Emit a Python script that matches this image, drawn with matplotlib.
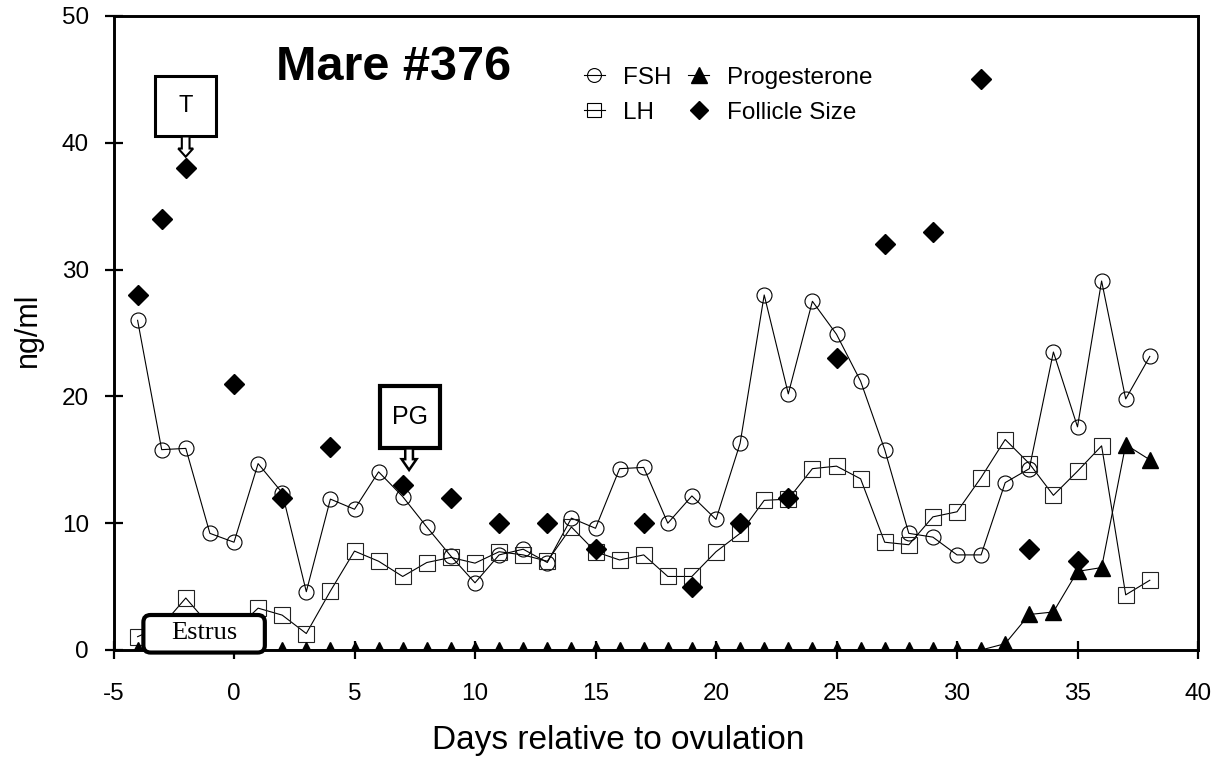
import matplotlib
matplotlib.use("Agg")
import matplotlib.pyplot as plt
from matplotlib.patches import Rectangle, FancyArrow, FancyBboxPatch
from matplotlib.lines import Line2D

plt.rcParams['font.family'] = ['Liberation Sans', 'DejaVu Sans']
plt.rcParams['axes.unicode_minus'] = False

# days relative to ovulation
days = list(range(-4, 39))

fsh = [26.0, 15.8, 15.9, 9.2, 8.5, 14.7, 12.4, 4.6, 11.9, 11.1, 14.05, 12.1, 9.7,
       7.4, 5.3, 7.5, 7.95, 6.9, 10.4, 9.6, 14.3, 14.4, 10.0, 12.15, 10.3, 16.3,
       28.0, 20.2, 27.5, 24.9, 21.2, 15.8, 9.2, 8.9, 7.5, 7.5, 13.2, 14.3, 23.5,
       17.6, 29.1, 19.8, 23.15]

lh = [1.05, 1.9, 4.1, 1.9, 1.5, 3.3, 2.75, 1.3, 4.65, 7.8, 7.0, 5.8, 6.9,
      7.3, 6.85, 7.75, 7.5, 7.0, 9.7, 7.75, 7.1, 7.5, 5.8, 5.8, 7.75, 9.2,
      11.8, 11.9, 14.3, 14.5, 13.5, 8.5, 8.3, 10.5, 10.9, 13.6, 16.6, 14.7, 12.2,
      14.1, 16.1, 4.35, 5.5]

prog = [0.0] * 36 + [0.5, 2.8, 3.0, 6.2, 6.5, 16.2, 15.0]

foll_days = [-4, -3, -2, 0, 2, 4, 7, 9, 11, 13, 15, 17, 19, 21, 23, 25, 27, 29, 31, 33, 35]
foll_size = [28, 34, 38, 21, 12, 16, 13, 12, 10, 10, 8, 10, 5, 10, 12, 23, 32, 33, 45, 8, 7]

x_ticks = [-5, 0, 5, 10, 15, 20, 25, 30, 35, 40]
y_ticks = [0, 10, 20, 30, 40, 50]

# annotation boxes (data units)
t_box = (-3.27, 40.5, 2.53, 4.8)     # x, y, w, h
t_tip = 38.9
pg_box = (6.05, 15.9, 2.49, 4.9)
pg_tip = 14.2
estrus_box = (-3.76, -0.2, 5.04, 2.96)

fig = plt.figure(figsize=(12.23, 7.63), dpi=100)
ax = fig.add_axes([113.5 / 1223, 1 - 650 / 763, (1198 - 113.5) / 1223, (650 - 16) / 763])

lw = 0.8
ax.plot(days, fsh, color='black', lw=lw, marker='o', ms=10.8, mfc='none', mec='black',
        mew=0.8, zorder=3)
ax.plot(days, lh, color='black', lw=lw, marker='s', ms=11.5, mfc='none', mec='#222222',
        mew=0.8, zorder=3)
ax.plot(foll_days, foll_size, ls='none', marker='D', ms=9.8, mfc='black', mec='black',
        zorder=4)
ax.plot(days, prog, color='black', lw=lw, marker='^', ms=12, mfc='black', mec='black',
        zorder=4)

ax.set_xlim(-5, 40)
ax.set_ylim(0, 50)
ax.set_xticks(x_ticks)
ax.set_yticks(y_ticks)
ax.tick_params(direction='inout', length=13.5, width=1.6, labelsize=17.5, color='black')
ax.tick_params(axis='x', pad=17)
ax.tick_params(axis='y', pad=11)
for s in ax.spines.values():
    s.set_linewidth(2.1)

ax.set_xlabel('Days relative to ovulation', fontsize=24, va='center')
ax.xaxis.set_label_coords(0.465, -0.142)
ax.set_ylabel('ng/ml', fontsize=22, va='center')
ax.yaxis.set_label_coords(-0.079, 0.505)

ax.text(0.258, 0.899, 'Mare #376', transform=ax.transAxes, fontsize=35,
        fontweight='bold', ha='center', va='baseline')

# legend
handles = [
    Line2D([], [], color='black', lw=lw, marker='o', ms=10, mfc='none', mec='black', mew=0.8),
    Line2D([], [], color='black', lw=lw, marker='s', ms=10, mfc='none', mec='black', mew=0.8),
    Line2D([], [], color='black', lw=lw, marker='^', ms=11, mfc='black', mec='black'),
    Line2D([], [], ls='none', marker='D', ms=9, mfc='black', mec='black'),
]
labels = ['FSH', 'LH', 'Progesterone', 'Follicle Size']
ax.legend(handles, labels, ncol=2, loc='center', bbox_to_anchor=(0.567, 0.875),
          frameon=False, fontsize=17.5, handlelength=0.85, handletextpad=0.75,
          columnspacing=0.7, labelspacing=0.55, borderpad=0)

# T callout
x0, y0, w, h = t_box
ax.add_patch(Rectangle((x0, y0), w, h, fc='white', ec='black', lw=2.2, zorder=6))
ax.text(x0 + w / 2, y0 + h / 2, 'T', ha='center', va='center', fontsize=17, zorder=7)
ax.add_patch(FancyArrow(x0 + w / 2, y0, 0, t_tip - y0, width=0.32, head_width=0.62,
                        head_length=0.65, length_includes_head=True, fc='white',
                        ec='black', lw=1.5, zorder=6))

# PG callout
x0, y0, w, h = pg_box
ax.add_patch(Rectangle((x0, y0), w, h, fc='white', ec='black', lw=3, zorder=6))
ax.text(x0 + w / 2, y0 + h / 2, 'PG', ha='center', va='center', fontsize=18, zorder=7)
ax.add_patch(FancyArrow(x0 + w / 2 - 0.03, y0, 0, pg_tip - y0, width=0.32, head_width=0.62,
                        head_length=0.85, length_includes_head=True, fc='white',
                        ec='black', lw=1.8, zorder=6))

# Estrus box
x0, y0, w, h = estrus_box
ax.add_patch(FancyBboxPatch((x0, y0), w, h, boxstyle='round,pad=0,rounding_size=0.3',
                            mutation_aspect=1.9, fc='white', ec='black', lw=3,
                            zorder=6, clip_on=False))
ax.text(x0 + w / 2, y0 + h / 2 + 0.1, 'Estrus', ha='center', va='center', fontsize=19,
        family='Liberation Serif', zorder=7)

fig.savefig('out.png', dpi=100)
